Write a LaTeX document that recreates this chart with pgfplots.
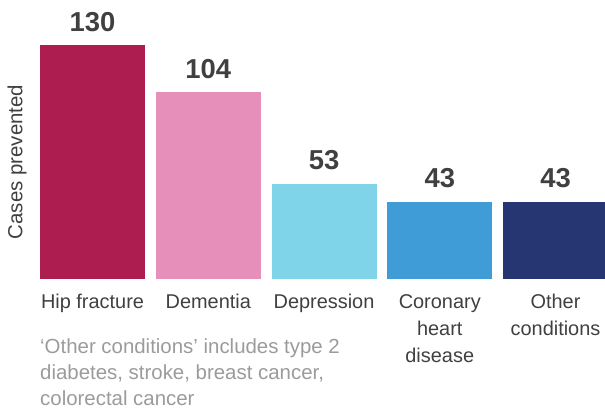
\documentclass[border=0pt]{standalone}
\usepackage{fontspec}
\setmainfont{Liberation Sans}
\usepackage{pgfplots}
\pgfplotsset{compat=1.18}
\definecolor{hipc}{HTML}{AD1D4F}
\definecolor{demc}{HTML}{E68FBB}
\definecolor{depc}{HTML}{7FD4EA}
\definecolor{corc}{HTML}{409CD7}
\definecolor{othc}{HTML}{253672}
\definecolor{txtdark}{HTML}{404040}
\definecolor{notegray}{HTML}{9B9B9B}
\begin{document}
\begin{tikzpicture}
\begin{axis}[
    scale only axis,
    width=565bp, height=234bp,
    xmin=-0.4536, xmax=4.4276,
    ymin=0, ymax=130,
    ybar, bar width=105bp, bar shift=0pt,
    axis line style={draw=none},
    major tick length=0pt,
    ytick=\empty,
    xtick={0,1,2,3,4},
    xticklabels={Hip fracture, Dementia, Depression, {Coronary\\heart\\disease}, {Other\\conditions}},
    xticklabel style={font=\fontsize{20}{27}\selectfont, text=txtdark, align=center, anchor=north, yshift=-12bp},
    nodes near coords,
    nodes near coords style={font=\fontsize{27.5}{30}\selectfont\bfseries, text=txtdark, yshift=10bp},
    /pgf/number format/assume math mode=true,
    clip=false,
]
\addplot[fill=hipc, draw=none] coordinates {(0,130)};
\addplot[fill=demc, draw=none] coordinates {(1,104)};
\addplot[fill=depc, draw=none] coordinates {(2,53)};
\addplot[fill=corc, draw=none] coordinates {(3,43)};
\addplot[fill=othc, draw=none] coordinates {(4,43)};
\node[rotate=90, anchor=center, font=\fontsize{20.5}{24}\selectfont, text=txtdark]
    at (rel axis cs:-0.0407,0.5) {Cases prevented};
\node[anchor=base west, inner sep=0pt, align=left, font=\fontsize{20.5}{26.5}\selectfont, text=notegray]
    at (rel axis cs:0,-0.5427) {‘Other conditions’ includes type 2\\diabetes, stroke, breast cancer,\\colorectal cancer};
\coordinate (bl) at (rel axis cs:-0.0708,-0.5556);
\coordinate (tr) at (rel axis cs:1,1.1923);
\end{axis}
\pgfresetboundingbox
\path (bl) rectangle (tr);
\end{tikzpicture}
\end{document}
